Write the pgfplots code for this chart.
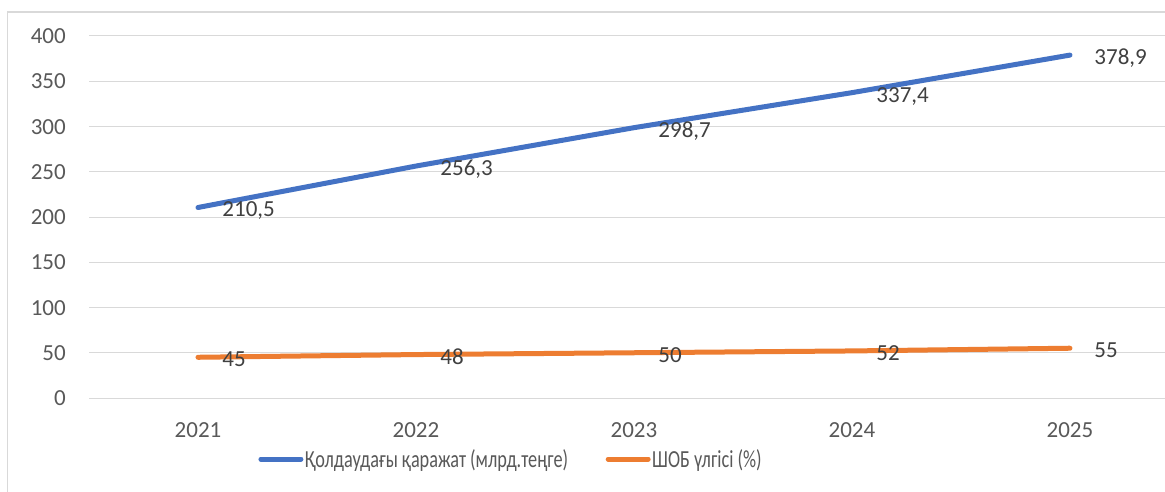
\documentclass[border=0pt]{standalone}
\usepackage{pgfplots}
\pgfplotsset{compat=1.18}
\usepackage{fontspec}
\setmainfont{Carlito}
\definecolor{cblue}{RGB}{68,114,196}
\definecolor{corange}{RGB}{237,125,49}
\definecolor{cgrid}{RGB}{217,217,217}
\definecolor{ctick}{RGB}{89,89,89}
\definecolor{clabel}{RGB}{64,64,64}
\begin{document}
\begin{tikzpicture}
\clip (0pt,0pt) rectangle (1165pt,491pt);
\fill[white] (0pt,0pt) rectangle (1165pt,491pt);
\draw[cgrid, line width=1.2pt] (7.5pt,-10pt) -- (7.5pt,479pt) -- (1200pt,479pt);
\begin{axis}[
  at={(89pt,93pt)}, anchor=south west,
  scale only axis, width=1090pt, height=362pt,
  xmin=-0.5, xmax=4.5, ymin=0, ymax=400,
  xtick={0,1,2,3,4}, xticklabels={2021,2022,2023,2024,2025},
  ytick={0,50,100,150,200,250,300,350,400},
  ymajorgrids, grid style={cgrid, line width=1pt},
  axis line style={draw=none}, major tick length=0pt,
  tick style={draw=none},
  font=\fontsize{23}{28}\selectfont,
  /pgf/number format/assume math mode=true,
  yticklabel style={anchor=base east, inner sep=0pt, xshift=-23pt, yshift=-7.5pt, text=ctick},
  xticklabel style={anchor=base, inner sep=0pt, yshift=-39.5pt, text=ctick},
  legend columns=2,
  legend style={at={(0.387,-0.1685)}, anchor=center, draw=none, fill=none,
    font=\fontsize{24.5}{28}\selectfont, text=ctick, inner sep=0pt,
    nodes={inner sep=1.5pt},
    /tikz/every even column/.append style={column sep=36pt}},
  legend image code/.code={\draw[#1, line cap=round] (0pt,0pt) -- (40pt,0pt);},
  nodes near coords,
  every node near coord/.append style={anchor=base west, inner sep=0pt, xshift=22pt, yshift=-9.5pt, text=clabel, font=\fontsize{23}{28}\selectfont},
]
\addplot[cblue, line width=5pt, line cap=round, mark=none,
  nodes near coords={\pgfmathprintnumber[fixed, fixed zerofill, precision=1, use comma, assume math mode=true]{\pgfplotspointmeta}}]
  coordinates {(0,210.5) (1,256.3) (2,298.7) (3,337.4) (4,378.9)};
\addlegendentry{\scalebox{0.745}[1]{Қолдаудағы қаражат (млрд.теңге)}}
\addplot[corange, line width=5pt, line cap=round, mark=none,
  nodes near coords={\pgfmathprintnumber[fixed, precision=0, assume math mode=true]{\pgfplotspointmeta}}]
  coordinates {(0,45) (1,48) (2,50) (3,52) (4,55)};
\addlegendentry{\scalebox{0.745}[1]{ШОБ үлгісі (\%)}}
\end{axis}
\end{tikzpicture}
\end{document}
